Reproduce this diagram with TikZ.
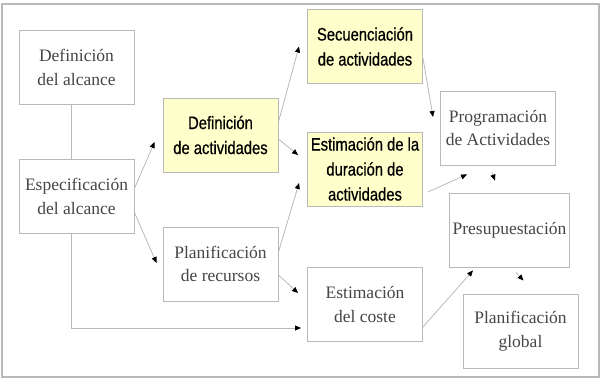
\documentclass[tikz,border=0pt]{standalone}
\usepackage{fontspec}
\setmainfont{Liberation Serif}
\newfontfamily\narrowsans[FakeStretch=0.82, FakeBold=0.6]{Liberation Sans}
\definecolor{boxgray}{RGB}{185,185,185}
\definecolor{txtgray}{RGB}{70,70,70}
\definecolor{lightyel}{RGB}{255,255,204}
\usetikzlibrary{arrows.meta,positioning}

\tikzset{
  plainbox/.style={draw=boxgray, line width=0.9pt, fill=white, minimum width=115pt, minimum height=74pt,
    align=center, text=txtgray, font=\fontsize{17.5}{23.5}\selectfont},
  keybox/.style={plainbox, fill=lightyel, text=black, font=\narrowsans\fontsize{18}{25}\selectfont},
  link/.style={draw=boxgray, line width=0.8pt, -{Triangle[black, length=6pt, width=5pt]}},
  plainlink/.style={draw=boxgray, line width=0.8pt}
}

\begin{document}
\begin{tikzpicture}[x=1pt, y=-1pt]
  \useasboundingbox (0,0) rectangle (605,383);
  %% Outer frame
  \draw[boxgray, line width=1.2pt] (2,4) rectangle (599,377);

  %% Boxes
  \node[plainbox] (dalc)  at (76.5,67.5)  {Definición\\del alcance};
  \node[plainbox] (esp)   at (76.5,196.5) {Especificación\\del alcance};
  \node[keybox]   (dact)  at (220.5,135)  {Definición\\de actividades};
  \node[plainbox] (prec)  at (220.5,264)  {Planificación\\de recursos};
  \node[keybox]   (sec)   at (365,46.5)   {Secuenciación\\de actividades};
  \node[keybox]   (edur)  at (365,169)    {Estimación de la\\duración de\\actividades};
  \node[plainbox] (ecos)  at (365,304.5)  {Estimación\\del coste};
  \node[plainbox] (prog)  at (498,128)    {Programación\\de Actividades};
  \node[plainbox] (pres)  at (509.5,230)  {Presupuestación};
  \node[plainbox] (pglob) at (520.5,331)  {Planificación\\global};

  %% Connectors
  \draw[plainlink] ([xshift=-5.5pt]dalc.south) -- ([xshift=-5.5pt]esp.north);
  \draw[link] ([yshift=8pt]esp.east)   -- ([xshift=-8pt, yshift=-7pt]dact.west);
  \draw[link] ([yshift=-16pt]esp.east) -- ([xshift=-6pt, yshift=1pt]prec.west);
  \draw[link] ([xshift=-5.5pt]esp.south) |- ([xshift=-6pt, yshift=-23.5pt]ecos.west);
  \draw[link] ([yshift=13pt]dact.east) -- ([xshift=-8pt]sec.west);
  \draw[link] ([yshift=-4pt]dact.east) -- ([xshift=-9pt, yshift=14pt]edur.west);
  \draw[link] ([yshift=12pt]prec.east) -- ([xshift=-8pt, yshift=-14pt]edur.west);
  \draw[link] ([yshift=-11pt]prec.east) -- ([xshift=-9pt, yshift=11.5pt]ecos.west);
  \draw[link] ([yshift=-11.5pt]sec.east) -- ([xshift=-7pt, yshift=11pt]prog.west);
  \draw[link] ([xshift=5pt, yshift=-23pt]edur.east) -- ([xshift=-31pt, yshift=-9pt]prog.south);
  \draw[link] ([xshift=-6pt, yshift=-7pt]prog.south) -- ([xshift=-14.5pt, yshift=12pt]pres.north);
  \draw[link] ([xshift=6.5pt, yshift=-5pt]pres.south) -- ([xshift=3pt, yshift=13pt]pglob.north);
  \draw[link] ([yshift=-22.5pt]ecos.east) -- ([xshift=-36.5pt, yshift=-3pt]pres.south);
\end{tikzpicture}
\end{document}
